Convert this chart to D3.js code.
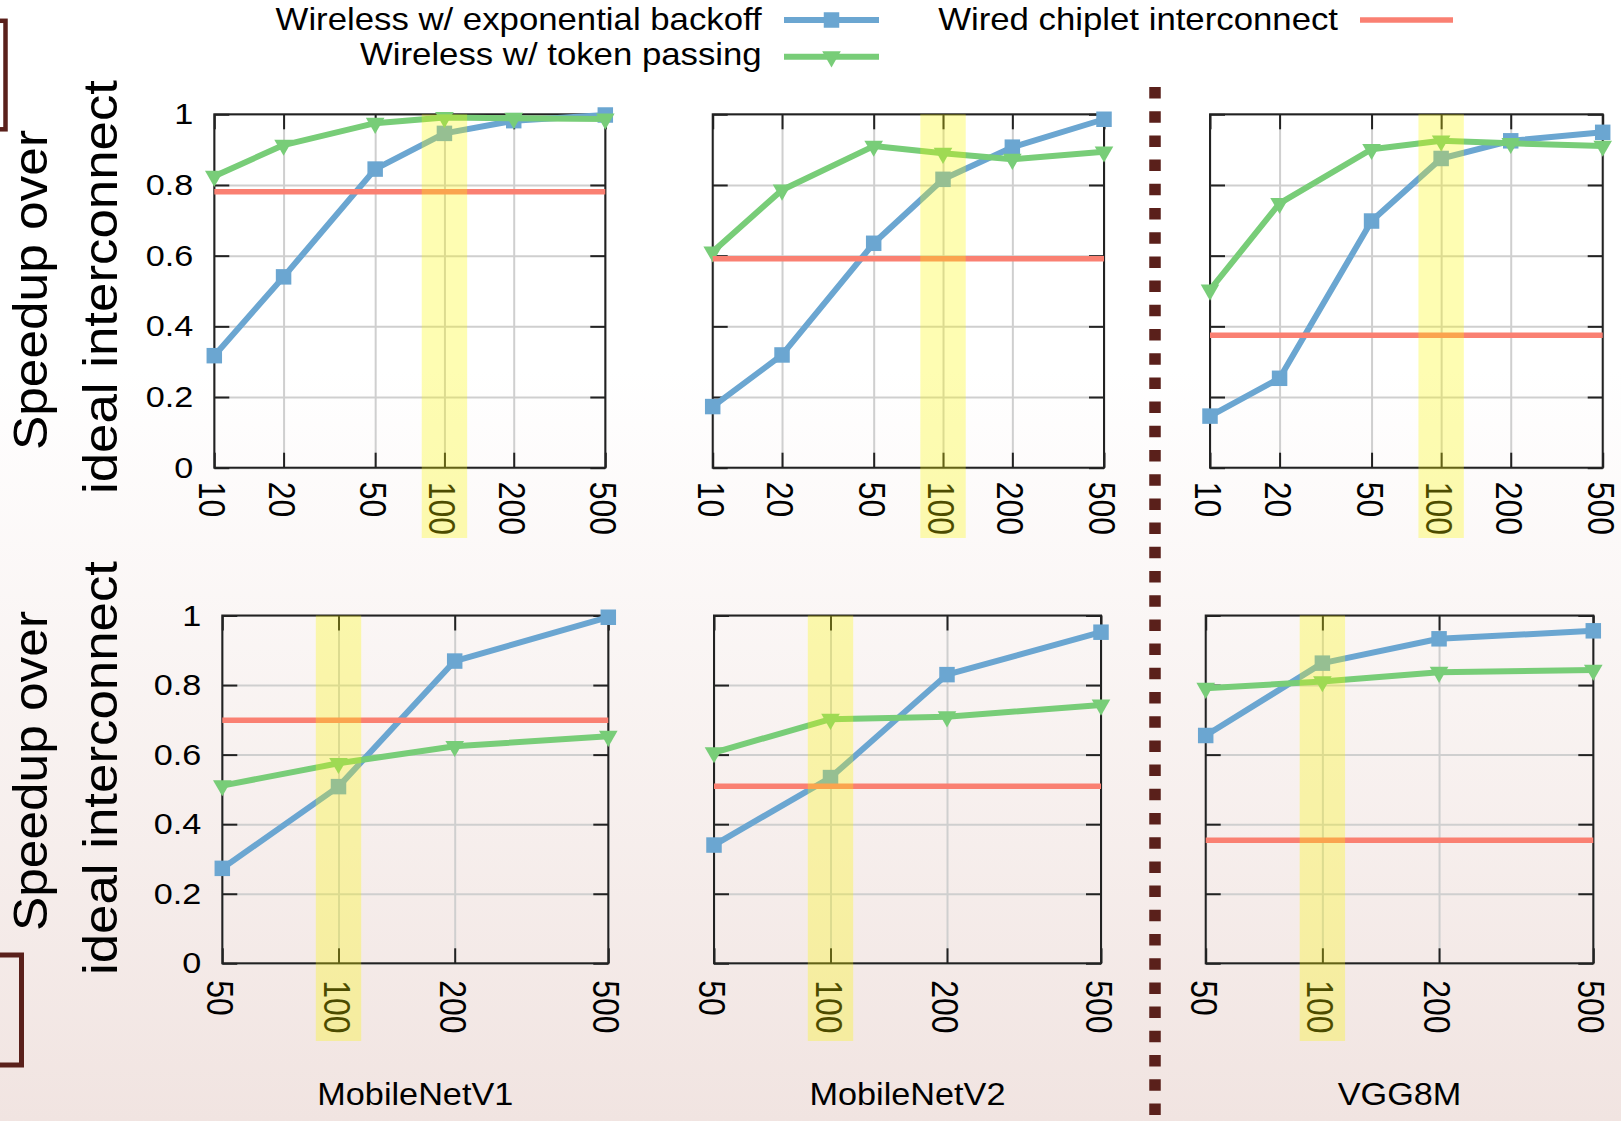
<!DOCTYPE html>
<html>
<head>
<meta charset="utf-8">
<script src="https://cdn.jsdelivr.net/npm/d3@7"></script>
<style>
  html, body { margin: 0; padding: 0; background: #fff; }
  svg { display: block; }
  text { font-family: "Liberation Sans", Arial, Helvetica, sans-serif; fill: #000; }
</style>
</head>
<body>
<svg id="chart" width="1621" height="1121"></svg>
<script>
// ---- data ----
const models = ["MobileNetV1", "MobileNetV2", "VGG8M"];
const seriesNames = ["Wireless w/ exponential backoff", "Wireless w/ token passing", "Wired chiplet interconnect"];
const yTitleLines = ["Speedup over", "ideal interconnect"];
const yTicks = [0, 0.2, 0.4, 0.6, 0.8, 1];
const xTop = [10, 20, 50, 100, 200, 500];
const xBottom = [50, 100, 200, 500];
const highlightX = 100;

// upper row (x = 10..500)
const topBackoff = [
  [0.317, 0.540, 0.845, 0.946, 0.982, 0.998],
  [0.173, 0.319, 0.635, 0.816, 0.907, 0.986],
  [0.146, 0.253, 0.698, 0.875, 0.925, 0.949]
];
const topToken = [
  [0.825, 0.913, 0.975, 0.991, 0.989, 0.987],
  [0.611, 0.786, 0.910, 0.890, 0.873, 0.894],
  [0.503, 0.748, 0.901, 0.925, 0.918, 0.910]
];
const topWired = [0.781, 0.591, 0.375];

// lower row (x = 50..500)
const bottomBackoff = [
  [0.273, 0.508, 0.869, 0.995],
  [0.340, 0.534, 0.830, 0.952],
  [0.655, 0.863, 0.933, 0.956]
];
const bottomToken = [
  [0.511, 0.575, 0.624, 0.653],
  [0.606, 0.702, 0.709, 0.743],
  [0.791, 0.810, 0.837, 0.843]
];
const bottomWired = [0.699, 0.509, 0.354];

// ---- style ----
const C_BLUE = "#6ba6d1";
const C_GREEN = "#78cd78";
const C_RED = "#fa8072";
const C_BROWN = "#5a201b";
const SX = 1.14; // horizontal text stretch

const svg = d3.select("#chart");

// background wash
const defs = svg.append("defs");
const grad = defs.append("linearGradient").attr("id", "bg").attr("x1", 0).attr("y1", 0).attr("x2", 0).attr("y2", 1);
grad.append("stop").attr("offset", "0").attr("stop-color", "#ffffff");
grad.append("stop").attr("offset", "0.33").attr("stop-color", "#ffffff");
grad.append("stop").attr("offset", "1").attr("stop-color", "#f1e4e1");
svg.append("rect").attr("width", 1621).attr("height", 1121).attr("fill", "url(#bg)");

// panel layout
const rows = [
  { xs: xTop, domain: [10, 500], y0: 467.7, y1: 114.3, bandBottom: 538, labelOff: 14,
    lefts: [214.3, 712.7, 1210], rights: [605.3, 1104, 1602.7],
    backoff: topBackoff, token: topToken, wired: topWired, titleCy: 288 },
  { xs: xBottom, domain: [50, 500], y0: 963.3, y1: 615.5, bandBottom: 1041, labelOff: 17,
    lefts: [222.3, 714, 1205.7], rights: [608.3, 1101, 1593.3],
    backoff: bottomBackoff, token: bottomToken, wired: bottomWired, titleCy: 769 }
];

const squareSym = d3.symbol().type(d3.symbolSquare).size(240);
const triSym = d3.symbol().type(d3.symbolTriangle).size(150);

function drawPanel(row, i) {
  const x0 = row.lefts[i], x1 = row.rights[i];
  const x = d3.scaleLog().domain(row.domain).range([x0, x1]);
  const y = d3.scaleLinear().domain([0, 1]).range([row.y0, row.y1]);
  const h = row.y0 - row.y1, w = x1 - x0;
  const g = svg.append("g");

  // grid
  const gx = g.append("g").attr("transform", `translate(0,${row.y0})`)
    .call(d3.axisBottom(x).tickValues(row.xs).tickSize(-h).tickFormat(""));
  gx.select(".domain").remove();
  gx.selectAll("line").attr("stroke", "#cfcfcf").attr("stroke-width", 2);
  const gy = g.append("g").attr("transform", `translate(${x0},0)`)
    .call(d3.axisLeft(y).tickValues(yTicks).tickSize(-w).tickFormat(""));
  gy.select(".domain").remove();
  gy.selectAll("line").attr("stroke", "#cfcfcf").attr("stroke-width", 2);

  // inward ticks on all four sides
  const tickStyle = sel => {
    sel.select(".domain").remove();
    sel.selectAll("line").attr("stroke", "#222").attr("stroke-width", 2);
  };
  const ab = g.append("g").attr("transform", `translate(0,${row.y0})`)
    .call(d3.axisBottom(x).tickValues(row.xs).tickFormat(d3.format("d")).tickSizeInner(-15).tickSizeOuter(0));
  tickStyle(ab);
  ab.selectAll("text")
    .attr("x", row.labelOff).attr("y", 0).attr("dy", "0.42em")
    .attr("text-anchor", "start")
    .attr("transform", `scale(${SX + 0.01},1) rotate(90)`)
    .style("font-size", "32px");
  g.append("g").attr("transform", `translate(0,${row.y1})`)
    .call(d3.axisTop(x).tickValues(row.xs).tickFormat("").tickSizeInner(-15).tickSizeOuter(0)).call(tickStyle);
  g.append("g").attr("transform", `translate(${x1},0)`)
    .call(d3.axisRight(y).tickValues(yTicks).tickFormat("").tickSizeInner(-15).tickSizeOuter(0)).call(tickStyle);
  const al = g.append("g").attr("transform", `translate(${x0},0)`)
    .call(d3.axisLeft(y).tickValues(yTicks).tickFormat(d => String(d)).tickSizeInner(-15).tickSizeOuter(0).tickPadding(21));
  tickStyle(al);
  if (i === 0) {
    al.selectAll("text")
      .attr("x", -21 / SX)
      .attr("transform", `scale(${SX},1)`)
      .style("font-size", "30px");
  } else {
    al.selectAll("text").remove();
  }

  // frame
  g.append("rect").attr("x", x0).attr("y", row.y1).attr("width", w).attr("height", h)
    .attr("fill", "none").attr("stroke", "#222").attr("stroke-width", 2);

  const line = d3.line().x(d => x(d.x)).y(d => y(d.y));
  const backoff = row.xs.map((v, k) => ({ x: v, y: row.backoff[i][k] }));
  const token = row.xs.map((v, k) => ({ x: v, y: row.token[i][k] }));
  const wired = row.domain.map(v => ({ x: v, y: row.wired[i] }));

  g.append("path").datum(backoff).attr("d", line).attr("fill", "none")
    .attr("stroke", C_BLUE).attr("stroke-width", 6).attr("stroke-linejoin", "round");
  g.selectAll(".sq").data(backoff).join("path").attr("class", "sq")
    .attr("d", squareSym).attr("fill", C_BLUE)
    .attr("transform", d => `translate(${x(d.x)},${y(d.y)})`);

  g.append("path").datum(token).attr("d", line).attr("fill", "none")
    .attr("stroke", C_GREEN).attr("stroke-width", 6).attr("stroke-linejoin", "round");
  g.selectAll(".tri").data(token).join("path").attr("class", "tri")
    .attr("d", triSym).attr("fill", C_GREEN)
    .attr("transform", d => `translate(${x(d.x)},${y(d.y)}) rotate(180)`);

  g.append("path").datum(wired).attr("d", line).attr("fill", "none")
    .attr("stroke", C_RED).attr("stroke-width", 5.5);

  // highlighted x value
  g.append("rect")
    .attr("x", x(highlightX) - 22.7).attr("width", 45.4)
    .attr("y", row.y1).attr("height", row.bandBottom - row.y1)
    .attr("fill", "#fdf800").attr("opacity", 0.3);
}

rows.forEach(row => {
  for (let i = 0; i < models.length; i++) drawPanel(row, i);
  // y-axis title, two lines, rotated
  [[47, 320], [117, 414]].forEach(([bx, len], k) => {
    svg.append("text")
      .attr("transform", `translate(${bx},${row.titleCy + (k === 0 ? 2 : -1)}) rotate(-90)`)
      .attr("text-anchor", "middle")
      .attr("textLength", len).attr("lengthAdjust", "spacingAndGlyphs")
      .style("font-size", "48px")
      .text(yTitleLines[k]);
  });
});

// model names below the lower row
models.forEach((m, i) => {
  const r = rows[1];
  const cx = (r.lefts[i] + r.rights[i]) / 2;
  svg.append("text")
    .attr("transform", `translate(${cx},1105) scale(1.07,1)`)
    .attr("text-anchor", "middle")
    .style("font-size", "32px")
    .text(m);
});

// legend
const legend = [
  { name: seriesNames[0], textX: 761.7, base: 30, lineX: [784, 879], ly: 20, color: C_BLUE, sym: "sq" },
  { name: seriesNames[1], textX: 761.7, base: 65, lineX: [784, 879], ly: 56.7, color: C_GREEN, sym: "tri" },
  { name: seriesNames[2], textX: 1338, base: 30, lineX: [1360, 1453], ly: 20, color: C_RED, sym: null }
];
legend.forEach(L => {
  svg.append("text")
    .attr("transform", `translate(${L.textX},${L.base}) scale(${SX},1)`)
    .attr("text-anchor", "end")
    .style("font-size", "30.5px")
    .text(L.name);
  svg.append("line").attr("x1", L.lineX[0]).attr("x2", L.lineX[1]).attr("y1", L.ly).attr("y2", L.ly)
    .attr("stroke", L.color).attr("stroke-width", L.sym ? 6 : 5.5);
  const mx = (L.lineX[0] + L.lineX[1]) / 2;
  if (L.sym === "sq") {
    svg.append("path").attr("d", squareSym).attr("fill", L.color).attr("transform", `translate(${mx},${L.ly})`);
  } else if (L.sym === "tri") {
    svg.append("path").attr("d", triSym).attr("fill", L.color).attr("transform", `translate(${mx},${L.ly}) rotate(180)`);
  }
});

// dotted divider between the MobileNet and VGG columns
svg.append("line").attr("x1", 1155).attr("x2", 1155).attr("y1", 87).attr("y2", 1121)
  .attr("stroke", C_BROWN).attr("stroke-width", 11.5).attr("stroke-dasharray", "11.5 12.7");

// bracket boxes at the left margin
svg.append("rect").attr("x", -30).attr("y", 20.8).attr("width", 35.5).attr("height", 108.5)
  .attr("fill", "none").attr("stroke", C_BROWN).attr("stroke-width", 4.5);
svg.append("rect").attr("x", -30).attr("y", 955).attr("width", 51.5).attr("height", 110)
  .attr("fill", "none").attr("stroke", C_BROWN).attr("stroke-width", 5);
</script>
</body>
</html>
